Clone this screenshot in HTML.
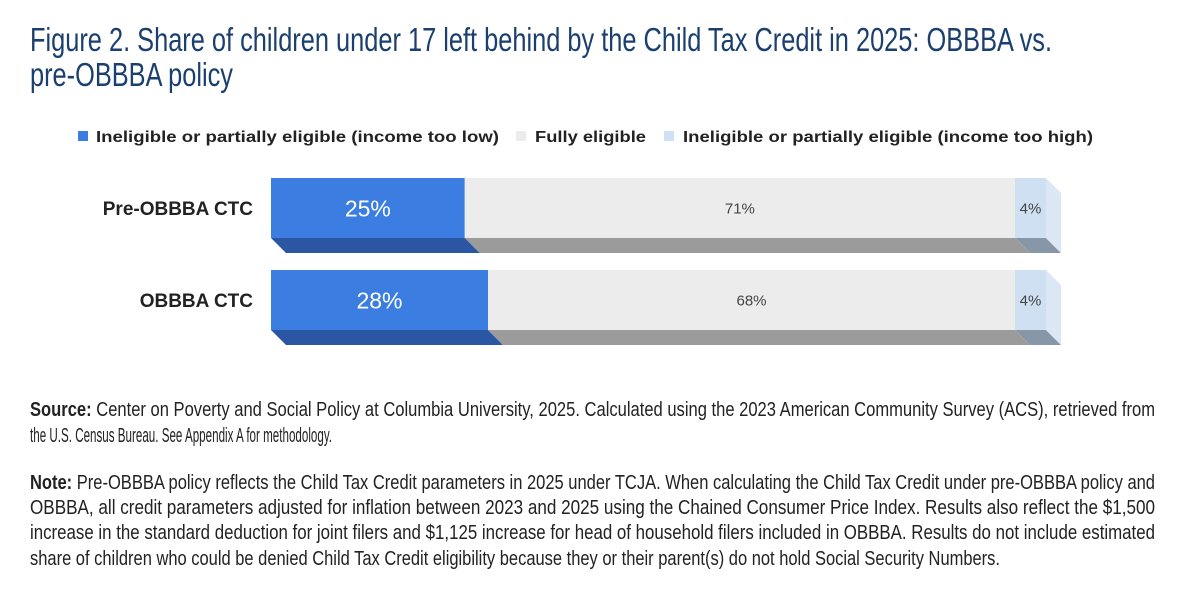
<!DOCTYPE html>
<html><head><meta charset="utf-8"><style>
html,body{margin:0;padding:0;background:#fff;}
svg{display:block;font-family:"Liberation Sans",sans-serif;}
</style></head><body>
<svg width="1200" height="591" viewBox="0 0 1200 591">
<g fill="#1b3f6e" font-size="33">
<text x="30" y="51" textLength="1022" lengthAdjust="spacingAndGlyphs">Figure 2. Share of children under 17 left behind by the Child Tax Credit in 2025: OBBBA vs.</text>
<text x="30" y="86" textLength="203" lengthAdjust="spacingAndGlyphs">pre-OBBBA policy</text>
</g>
<g font-size="16" font-weight="bold" fill="#222">
<rect x="78" y="131" width="10" height="10" fill="#3b7de0"/>
<text x="96" y="142" textLength="403" lengthAdjust="spacingAndGlyphs">Ineligible or partially eligible (income too low)</text>
<rect x="516" y="131" width="10" height="10" fill="#ececec"/>
<text x="535" y="142" textLength="111" lengthAdjust="spacingAndGlyphs">Fully eligible</text>
<rect x="664" y="131" width="10" height="10" fill="#cfe0f2"/>
<text x="683" y="142" textLength="410" lengthAdjust="spacingAndGlyphs">Ineligible or partially eligible (income too high)</text>
</g>
<g id="bars"></g>
<g font-size="20" fill="#222">
<text x="30" y="416" textLength="1125" lengthAdjust="spacingAndGlyphs"><tspan font-weight="bold">Source:</tspan> Center on Poverty and Social Policy at Columbia University, 2025. Calculated using the 2023 American Community Survey (ACS), retrieved from</text>
<text x="30" y="442" textLength="302" lengthAdjust="spacingAndGlyphs">the U.S. Census Bureau. See Appendix A for methodology.</text>
<text x="30" y="489" textLength="1125" lengthAdjust="spacingAndGlyphs"><tspan font-weight="bold">Note:</tspan> Pre-OBBBA policy reflects the Child Tax Credit parameters in 2025 under TCJA. When calculating the Child Tax Credit under pre-OBBBA policy and</text>
<text x="30" y="514" textLength="1125" lengthAdjust="spacingAndGlyphs">OBBBA, all credit parameters adjusted for inflation between 2023 and 2025 using the Chained Consumer Price Index. Results also reflect the $1,500</text>
<text x="30" y="539" textLength="1125" lengthAdjust="spacingAndGlyphs">increase in the standard deduction for joint filers and $1,125 increase for head of household filers included in OBBBA. Results do not include estimated</text>
<text x="30" y="565" textLength="970" lengthAdjust="spacingAndGlyphs">share of children who could be denied Child Tax Credit eligibility because they or their parent(s) do not hold Social Security Numbers.</text>
</g>
</svg>
<script>
const categories = ["Pre-OBBBA CTC", "OBBBA CTC"];
const incomeTooLow = [25, 28];
const fullyEligible = [71, 68];
const incomeTooHigh = [4, 4];

const NS = "http://www.w3.org/2000/svg";
const g = document.getElementById("bars");
const x0 = 271, pxPer = 7.75, barH = 60, depth = 15;
function xs(v){ return x0 + v * pxPer; }
function ys(i){ return 178 + i * 92; }
function mk(tag, attrs){ const e = document.createElementNS(NS, tag); for (const k in attrs) e.setAttribute(k, attrs[k]); g.appendChild(e); return e; }
const segs = [
  {vals: incomeTooLow, face: "#3b7de0", bottom: "#2a56a3", txt: "#fff", fs: 23, key: "income-too-low"},
  {vals: fullyEligible, face: "#ececec", bottom: "#9b9b9b", txt: "#444", fs: 15, key: "fully-eligible"},
  {vals: incomeTooHigh, face: "#cfe0f2", bottom: "#8797a8", txt: "#444", fs: 15, key: "income-too-high"}
];
categories.forEach((cat, i) => {
  const y = ys(i);
  const lab = mk("text", {x: 253, y: y + 37, "text-anchor": "end", "font-size": 19, "font-weight": "bold", fill: "#222"});
  lab.textContent = cat;
  
  
  let acc = 0;
  segs.forEach((s, j) => {
    const a = xs(acc), b = xs(acc + s.vals[i]);
    const last = j === segs.length - 1;
    const bot = mk("polygon", {points: `${a},${y+barH} ${b},${y+barH} ${b+depth},${y+barH+depth} ${a+depth},${y+barH+depth}`, fill: s.bottom});
    
    
    if (last) {
      const side = mk("polygon", {points: `${b},${y} ${b+depth},${y+depth} ${b+depth},${y+barH+depth} ${b},${y+barH}`, fill: "#dbe7f4"});
      
      
    }
    const r = mk("rect", {x: a, y: y, width: b - a, height: barH, fill: s.face});
    
    
    const t = mk("text", {x: (a + b) / 2, y: y + 30 + s.fs * 0.36, "text-anchor": "middle", "font-size": s.fs, fill: s.txt});
    t.textContent = s.vals[i] + "%";
    
    
    acc += s.vals[i];
  });
});
</script>
</body></html>
